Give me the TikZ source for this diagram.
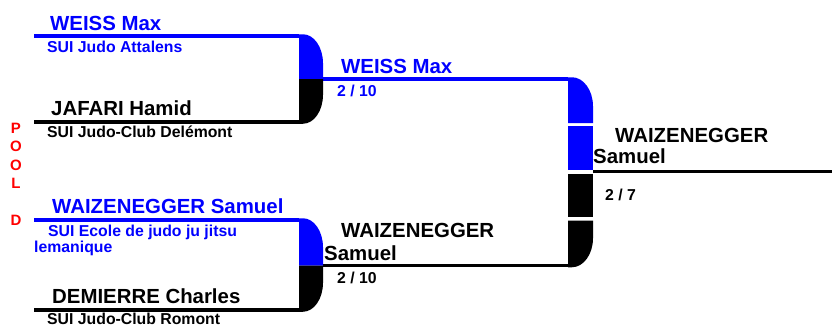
\documentclass[tikz,border=0pt]{standalone}
\usepackage{fontspec}
\setmainfont{Liberation Sans}

\begin{document}
\begin{tikzpicture}[x=1pt,y=-1pt,
  nm/.style={anchor=base west,inner sep=0pt,font=\bfseries\fontsize{20.4}{24}\selectfont},
  sm/.style={anchor=base west,inner sep=0pt,font=\bfseries\fontsize{15.8}{18}\selectfont},
  pl/.style={inner sep=0pt,text=red,font=\bfseries\fontsize{15}{17}\selectfont},
  ln/.style={line width=3.5pt}
]
  \useasboundingbox (0,0) rectangle (832,327);

  \foreach \n/\y/\c in {a/36/blue,b/122/black,c/220/blue,d/310/black}{
    \coordinate (\n0) at (34,\y); \coordinate (\n1) at (299,\y);
    \draw[ln,\c](\n0)--(\n1);}
  \coordinate (m1) at (299,79); \coordinate (m2) at (299,265.5);
  \foreach \n/\y/\c in {e/79/blue,f/265.5/black}{
    \coordinate (\n0) at (323,\y); \coordinate (\n1) at (568,\y);
    \draw[ln,\c](\n0)--(\n1);}
  \coordinate (h0) at (593,171.5); \coordinate (h1) at (832,171.5);
  \draw[ln](h0)--(h1);

  \foreach \t/\m/\b in {a1/m1/b1,c1/m2/d1}{
    \fill[blue] (\t) ++(0,-1.75) -- ++(4,0) .. controls +(11,0) and +(0,-16) .. ++(20,29) |- (\m) -- cycle;
    \fill[black] (\b) ++(0,1.75) -- ++(4,0) .. controls +(11,0) and +(0,16) .. ++(20,-29) |- (\m) -- cycle;}

  \coordinate (g1) at (568,123); \coordinate (g2) at (568,126);
  \coordinate (g3) at (568,173.5); \coordinate (g4) at (568,220.5);
  \fill[blue] (e1) ++(0,-1.75) -- ++(4,0) .. controls +(11.5,0) and +(0,-16) .. ++(21,29) |- (g1) -- cycle;
  \fill[blue] (g2) rectangle ++(25,44);
  \fill[black] (g3) rectangle ++(25,43.5);
  \fill[black] (f1) ++(0,1.75) -- ++(4,0) .. controls +(11.5,0) and +(0,16) .. ++(21,-29) |- (g4) -- cycle;

  \foreach \l/\y [count=\i] in {P/128,O/146.5,O/165,L/183.5,D/220.5}
    \node[pl] (pool\i) at (16,\y) {\l};

  \node[nm,blue] (p1) at (50,30) {WEISS Max};
  \node[sm,blue] (p1c) at (47,52.5) {SUI Judo Attalens};
  \node[nm] (p2) at (51,115) {JAFARI Hamid};
  \node[sm] (p2c) at (47,137.5) {SUI Judo-Club Delémont};
  \node[nm,blue] (p3) at (52,213) {WAIZENEGGER Samuel};
  \node[sm,blue] (p3c) at (48,236.5) {SUI Ecole de judo ju jitsu};
  \node[sm,blue] (p3d) at (34,252) {lemanique};
  \node[nm] (p4) at (52,303) {DEMIERRE Charles};
  \node[sm] (p4c) at (47,324) {SUI Judo-Club Romont};

  \node[nm,blue] (r1) at (341,73) {WEISS Max};
  \node[sm,blue] (r1s) at (337,96.5) {2 / 10};
  \node[nm] (r2) at (341,237) {WAIZENEGGER};
  \node[nm] (r2b) at (324,260) {Samuel};
  \node[sm] (r2s) at (337,283) {2 / 10};

  \node[nm] (w) at (615,142) {WAIZENEGGER};
  \node[nm] (wb) at (593,163.5) {Samuel};
  \node[sm] (ws) at (605,200) {2 / 7};
\end{tikzpicture}
\end{document}
